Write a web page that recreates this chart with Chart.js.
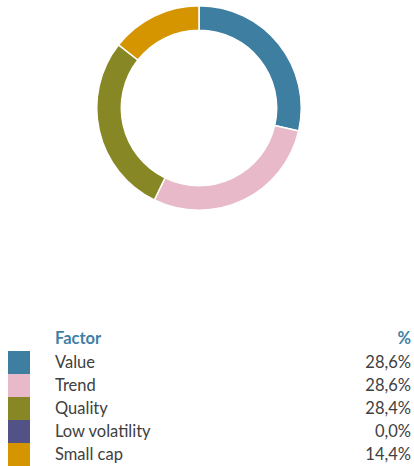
<!DOCTYPE html>
<html>
<head>
<meta charset="utf-8">
<script src="https://cdn.jsdelivr.net/npm/chart.js@4/dist/chart.umd.min.js"></script>
<style>
  body { margin: 0; width: 414px; height: 466px; background: #fff; position: relative; overflow: hidden; font-family: Lato, "Liberation Sans", sans-serif; }
  #chartBox { position: absolute; left: 96px; top: 5px; width: 206px; height: 206px; }
  #legend { position: absolute; left: 0; top: 325px; width: 411px; border-collapse: collapse; font-size: 16.5px; color: #404040; }
  #legend td, #legend th { padding: 0; height: 23px; line-height: 23px; }
  #legend th { color: #3f7fa6; font-weight: bold; text-align: left; height: 26px; }
  #legend .sw { width: 22px; padding-left: 8px; }
  #legend .sw div { width: 22px; height: 23px; }
  #legend .gap { width: 25px; }
  #legend .num { text-align: right; }
</style>
</head>
<body>
<div id="chartBox"><canvas id="factorChart"></canvas></div>
<table id="legend"></table>
<script>
document.addEventListener('DOMContentLoaded', function() {
  const factors = ['Value', 'Trend', 'Quality', 'Low volatility', 'Small cap'];
  const weights = [28.6, 28.6, 28.4, 0.0, 14.4];
  const colors = ['#3e7ea1', '#e7b9c9', '#878825', '#525286', '#d49500'];

  // Legend table below the chart
  const table = document.getElementById('legend');
  let html = '<tr><th class="sw"></th><th class="gap"></th><th>Factor</th><th class="num">%</th></tr>';
  factors.forEach(function(f, i) {
    html += '<tr><td class="sw"><div style="background:' + colors[i] + '"></div></td><td class="gap"></td>' +
      '<td>' + f + '</td><td class="num">' + weights[i].toFixed(1).replace('.', ',') + '%</td></tr>';
  });
  table.innerHTML = html;

  const ctx = document.getElementById('factorChart').getContext('2d');
  new Chart(ctx, {
    type: 'doughnut',
    data: {
      labels: factors,
      datasets: [{
        data: weights,
        backgroundColor: colors,
        borderColor: '#ffffff',
        borderWidth: 1.5
      }]
    },
    options: {
      responsive: true,
      maintainAspectRatio: false,
      animation: false,
      cutout: '76%',
      plugins: {
        legend: { display: false },
        tooltip: { enabled: false }
      }
    }
  });
});
</script>
</body>
</html>
